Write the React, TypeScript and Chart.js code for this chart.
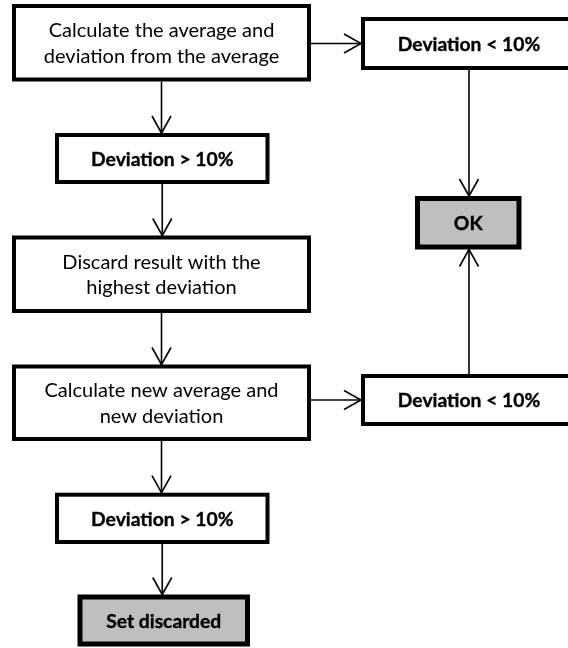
import React, { useEffect, useRef } from 'react';
import { Chart, registerables } from 'chart.js';

Chart.register(...registerables);

// Flowchart nodes (data units == page pixels of the reference)
const nodeLabels = [
  'Calculate the average and\ndeviation from the average',
  'Deviation < 10%',
  'Deviation > 10%',
  'OK',
  'Discard result with the\nhighest deviation',
  'Calculate new average and\nnew deviation',
  'Deviation < 10%',
  'Deviation > 10%',
  'Set discarded',
];
const nodeCenterX = [161.5, 469, 162.25, 468.25, 161.5, 161.5, 469, 162.25, 163.75];
const nodeCenterY = [42.75, 43.5, 158.5, 222.75, 274.25, 402.75, 400, 518.35, 620.5];
const nodeBold = [false, true, true, true, false, false, true, true, true];
const nodeShaded = [false, false, false, true, false, false, false, false, true];

// Edges
const edgeFrom = [0, 0, 1, 2, 4, 5, 6, 5, 7];
const edgeTo = [1, 2, 3, 4, 5, 6, 3, 7, 8];
const edgeSide = ['right', 'bottom', 'bottom', 'bottom', 'bottom', 'right', 'top', 'bottom', 'bottom'];

// Sizes / styles (kept apart from the data)
const nodeWidth = [295, 212, 210.5, 101.5, 295, 295, 212, 210.5, 167.5];
const nodeHeight = [73.5, 49, 47, 48.5, 73.5, 72.5, 48, 47.3, 47];
const nodeBorder = [4, 4, 4, 5, 4, 4, 4, 4, 5];

const flowPlugin = {
  id: 'flow',
  afterDraw(chart: any) {
    const { ctx } = chart;
    const xs = chart.scales.x;
    const ys = chart.scales.y;
    const px = (v: number) => xs.getPixelForValue(v);
    const py = (v: number) => ys.getPixelForValue(v);
    const box = (i: number) => {
      const l = px(nodeCenterX[i] - nodeWidth[i] / 2);
      const r = px(nodeCenterX[i] + nodeWidth[i] / 2);
      const t = py(nodeCenterY[i] - nodeHeight[i] / 2);
      const b = py(nodeCenterY[i] + nodeHeight[i] / 2);
      return { l, r, t, b, cx: px(nodeCenterX[i]), cy: py(nodeCenterY[i]), lw: nodeBorder[i] };
    };
    ctx.save();
    // edges
    ctx.strokeStyle = '#000';
    ctx.lineWidth = 1.6;
    ctx.lineCap = 'butt';
    for (let k = 0; k < edgeFrom.length; k++) {
      const a = box(edgeFrom[k]);
      const b = box(edgeTo[k]);
      let x1, y1, x2, y2;
      if (edgeSide[k] === 'right') {
        x1 = a.r + a.lw / 2; y1 = b.cy; x2 = b.l - b.lw / 2; y2 = b.cy;
      } else if (edgeSide[k] === 'bottom') {
        x1 = a.cx; y1 = a.b + a.lw / 2; x2 = a.cx; y2 = b.t - b.lw / 2;
      } else {
        x1 = a.cx; y1 = a.t - a.lw / 2; x2 = a.cx; y2 = b.b + b.lw / 2;
      }
      ctx.beginPath();
      ctx.moveTo(x1, y1);
      ctx.lineTo(x2, y2);
      ctx.stroke();
      const ang = Math.atan2(y2 - y1, x2 - x1);
      const len = 17, half = 9.5;
      const ux = Math.cos(ang), uy = Math.sin(ang);
      ctx.beginPath();
      ctx.moveTo(x2 - ux * len - uy * half, y2 - uy * len + ux * half);
      ctx.lineTo(x2, y2);
      ctx.lineTo(x2 - ux * len + uy * half, y2 - uy * len - ux * half);
      ctx.stroke();
    }
    // nodes
    for (let i = 0; i < nodeLabels.length; i++) {
      const b = box(i);
      ctx.fillStyle = nodeShaded[i] ? '#bfbfbf' : '#ffffff';
      ctx.fillRect(b.l, b.t, b.r - b.l, b.b - b.t);
      ctx.lineWidth = b.lw;
      ctx.strokeStyle = '#000';
      ctx.lineJoin = 'miter';
      ctx.strokeRect(b.l, b.t, b.r - b.l, b.b - b.t);
      ctx.fillStyle = '#000';
      ctx.textAlign = 'center';
      ctx.textBaseline = 'middle';
      ctx.font = nodeBold[i] ? 'bold 19.3px Lato' : '20px Lato';
      const lines = nodeLabels[i].split('\n');
      const lh = 25.5;
      lines.forEach((ln, j) => {
        const y = b.cy + (j - (lines.length - 1) / 2) * lh + 1;
        ctx.fillText(ln, b.cx, y);
        if (nodeBold[i]) {
          ctx.lineWidth = 0.35;
          ctx.strokeText(ln, b.cx, y);
        }
      });
    }
    ctx.restore();
  },
};

export default function App() {
  const ref = useRef<HTMLCanvasElement | null>(null);
  useEffect(() => {
    document.body.style.margin = '0';
    const canvas = ref.current;
    if (!canvas) return;
    const chart = new Chart(canvas, {
      type: 'scatter',
      data: {
        datasets: [
          {
            data: nodeCenterX.map((x, i) => ({ x, y: nodeCenterY[i] })),
            pointRadius: 0,
            showLine: false,
          },
        ],
      },
      options: {
        animation: false,
        responsive: false,
        maintainAspectRatio: false,
        devicePixelRatio: 1,
        layout: { padding: 0 },
        events: [],
        scales: {
          x: { type: 'linear', min: 0, max: 568, display: false },
          y: { type: 'linear', min: 0, max: 648, reverse: true, display: false },
        },
        plugins: { legend: { display: false }, tooltip: { enabled: false } },
      },
      plugins: [flowPlugin],
    });
    return () => chart.destroy();
  }, []);
  return (
    <div style={{ width: 568, height: 648, background: '#fff' }}>
      <canvas ref={ref} width={568} height={648} style={{ display: 'block' }} />
    </div>
  );
}
